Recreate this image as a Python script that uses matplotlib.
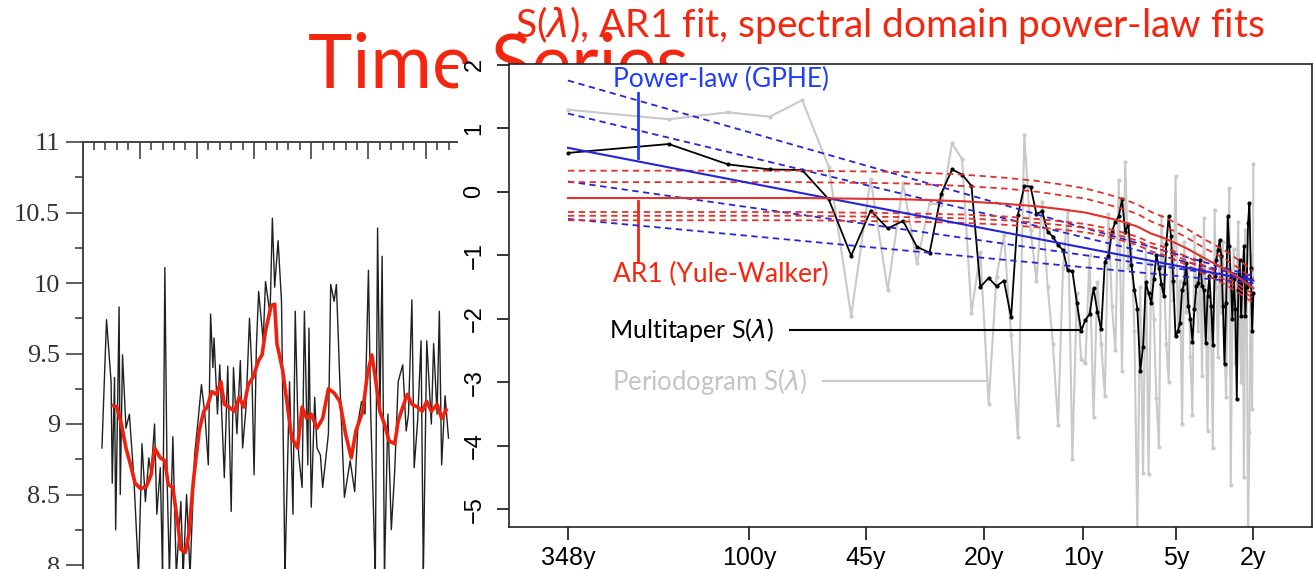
import matplotlib
matplotlib.use("Agg")
import matplotlib.pyplot as plt
import numpy as np
from matplotlib.patches import Rectangle
from matplotlib.ticker import NullLocator

W, H = 1313, 569

# ---- left panel: annual series and its running mean ----
ts_years = [1667, 1671, 1675, 1676, 1678, 1679, 1682, 1683, 1685, 1688, 1691, 1695, 1699,
            1702, 1705, 1708, 1710, 1713, 1715, 1718, 1720, 1722, 1724, 1726, 1729, 1732,
            1736, 1738, 1741, 1744, 1748, 1751, 1754, 1757, 1760, 1762, 1764, 1765, 1768,
            1770, 1774, 1777, 1780, 1782, 1785, 1788, 1790, 1793, 1796, 1798, 1800, 1802,
            1804, 1808, 1810, 1814, 1816, 1818, 1821, 1824, 1827, 1831, 1834, 1836, 1839,
            1842, 1844, 1847, 1848, 1850, 1853, 1855, 1858, 1860, 1865, 1867, 1870, 1872,
            1875, 1879, 1884, 1888, 1891, 1894, 1897, 1900, 1902, 1906, 1908, 1910, 1912,
            1914, 1917, 1920, 1923, 1926, 1930, 1933, 1935, 1938, 1940, 1943, 1946, 1948,
            1951, 1955, 1957, 1960, 1962, 1964, 1967, 1970]
ts_values = [8.83, 9.74, 9.30, 8.58, 9.33, 8.25, 9.83, 8.50, 9.49, 8.97, 9.07, 8.60, 7.93,
             8.86, 8.45, 8.76, 8.64, 9.00, 8.36, 8.69, 7.93, 10.11, 8.60, 7.93, 8.91, 7.93,
             8.45, 7.93, 8.50, 7.93, 8.78, 9.02, 9.28, 9.07, 8.71, 9.78, 9.40, 9.61, 9.07,
             9.42, 8.62, 9.41, 8.38, 9.40, 8.93, 9.45, 8.83, 9.12, 9.75, 9.40, 8.64, 9.54,
             9.94, 9.59, 10.01, 9.78, 10.46, 9.97, 10.30, 9.87, 7.93, 9.30, 8.36, 9.80, 8.78,
             8.55, 9.80, 8.71, 9.68, 8.41, 9.19, 8.83, 8.78, 8.55, 8.93, 9.99, 9.87, 9.99,
             9.30, 8.48, 8.74, 8.52, 9.02, 9.16, 9.07, 10.09, 9.07, 7.93, 10.39, 9.07, 10.19,
             7.93, 9.07, 8.25, 8.67, 9.30, 9.42, 8.95, 9.07, 9.88, 8.69, 9.02, 9.59, 7.93,
             9.59, 9.00, 9.57, 9.07, 9.80, 8.71, 9.20, 8.90]
smooth_years = [1677, 1680, 1684, 1688, 1692, 1696, 1701, 1706, 1710, 1713, 1718, 1722, 1725,
                1729, 1733, 1736, 1740, 1743, 1747, 1752, 1756, 1759, 1763, 1767, 1771, 1774,
                1778, 1783, 1787, 1791, 1795, 1799, 1804, 1807, 1810, 1815, 1818, 1820, 1825,
                1829, 1833, 1838, 1842, 1846, 1850, 1855, 1860, 1865, 1870, 1875, 1880, 1885,
                1889, 1895, 1899, 1903, 1906, 1910, 1914, 1918, 1923, 1926, 1930, 1934, 1938,
                1943, 1947, 1951, 1955, 1960, 1964, 1968]
smooth_values = [9.13, 9.12, 9.00, 8.83, 8.71, 8.58, 8.54, 8.56, 8.64, 8.83, 8.76, 8.74, 8.57,
                 8.55, 8.31, 8.11, 8.09, 8.22, 8.60, 8.95, 9.09, 9.12, 9.23, 9.21, 9.30, 9.14,
                 9.12, 9.09, 9.19, 9.12, 9.28, 9.33, 9.45, 9.49, 9.66, 9.84, 9.85, 9.57, 9.38,
                 9.14, 8.90, 8.83, 9.12, 9.04, 9.07, 8.97, 9.04, 9.25, 9.22, 9.16, 8.93, 8.76,
                 8.95, 9.09, 9.35, 9.49, 9.33, 9.09, 9.00, 8.88, 8.86, 9.02, 9.12, 9.21, 9.14,
                 9.12, 9.09, 9.16, 9.09, 9.14, 9.04, 9.10]

# ---- right panel: log10 spectra at Fourier index k = 1, 2, ... ----
multitaper = [0.61, 0.75, 0.43, 0.35, 0.34, -0.12, -1.01, -0.30, -0.58, -0.46,
              -0.87, -0.96, -0.03, 0.35, 0.27, 0.09, -1.50, -1.36, -1.49, -1.40,
              -1.98, -0.37, 0.09, 0.08, -0.35, -0.31, -0.63, -0.71, -0.84, -0.92,
              -1.24, -1.25, -1.75, -2.19, -2.02, -1.93, -1.52, -1.89, -2.17, -1.10,
              -1.02, -0.63, -0.47, -0.39, -0.12, -0.63, -0.51, -1.15, -1.55, -1.84,
              -2.82, -2.44, -1.43, -1.60, -1.75, -1.37, -1.00, -1.20, -1.45, -1.65,
              -0.82, -0.39, -0.70, -1.40, -2.28, -2.20, -2.07, -1.55, -1.44, -1.13,
              -1.80, -2.00, -2.36, -1.85, -1.49, -1.44, -1.07, -1.49, -1.55, -2.39,
              -1.65, -1.33, -1.80, -2.41, -1.33, -1.07, -0.92, -0.76, -1.02, -1.80,
              -2.72, -1.75, -0.39, -0.86, -1.33, -2.00, -1.38, -1.85, -3.27, -1.55,
              -1.07, -1.96, -1.33, -0.86, -1.96, -1.50, -0.49, -0.18, -1.20, -2.20, -1.60]
periodogram = [1.29, 1.14, 1.25, 1.18, 1.44, 0.39, -1.96, 0.20, -1.55, 0.13,
               -1.13, -0.18, -0.21, 0.76, 0.51, -1.91, -0.95, -3.34, -1.34, -0.68,
               -2.26, -3.86, 0.89, -0.60, -1.40, -0.16, -1.50, -2.40, -3.67, -1.20,
               -0.30, -4.21, -1.60, -2.64, -2.70, -1.00, -3.55, -1.42, -2.40, -3.21,
               -0.35, -1.80, -2.50, 0.18, -2.82, 0.46, -1.20, -0.80, -2.20, -5.40,
               -1.50, -4.43, -0.84, -4.45, -1.10, -2.00, -3.25, -4.02, -0.39, -1.30,
               -2.40, -2.99, -0.90, -1.70, 0.24, -2.10, -1.40, -3.66, -0.80, -1.90,
               -1.20, -2.60, -3.51, -0.70, -1.60, -2.20, -1.00, -2.90, -0.42, -1.80,
               -3.77, -1.20, -2.30, -4.04, -0.29, -1.50, -2.60, -1.00, -1.90, -0.80,
               -2.40, -3.24, -1.40, 0.05, -4.62, -1.80, -0.90, -2.70, -1.30, -0.47,
               -2.00, -3.00, -1.10, -4.50, -0.60, -1.70, -5.40, -3.78, -1.00, -3.42, 0.44]

# power-law (GPHE) fit and its bands: log10 S at first and last index
gphe_fit = [0.69, -1.40]
gphe_bands = [[1.75, -1.33], [1.23, -1.36], [0.16, -1.38], [-0.43, -1.44]]

# AR1 (Yule-Walker) fit and bands, read at these indices
ar1_k = [1, 5, 10, 15, 20, 25, 30, 35, 40, 45, 50, 55, 60, 65, 70, 80, 90, 100, 111]
ar1_fit = [-0.10, -0.10, -0.12, -0.15, -0.19, -0.23, -0.28, -0.33, -0.40, -0.47,
           -0.55, -0.66, -0.73, -0.81, -0.89, -1.06, -1.20, -1.35, -1.52]
ar1_bands = [
    [0.33, 0.33, 0.31, 0.27, 0.22, 0.17, 0.11, 0.05, -0.03, -0.11,
     -0.20, -0.32, -0.40, -0.49, -0.58, -0.76, -0.91, -1.07, -1.25],
    [0.15, 0.15, 0.13, 0.09, 0.05, 0.00, -0.06, -0.11, -0.19, -0.27,
     -0.35, -0.47, -0.55, -0.63, -0.72, -0.90, -1.04, -1.20, -1.38],
    [-0.32, -0.32, -0.34, -0.36, -0.39, -0.43, -0.47, -0.51, -0.57, -0.64,
     -0.71, -0.81, -0.87, -0.95, -1.02, -1.18, -1.31, -1.46, -1.62],
    [-0.38, -0.38, -0.40, -0.42, -0.45, -0.49, -0.53, -0.57, -0.63, -0.70,
     -0.77, -0.87, -0.93, -1.01, -1.08, -1.24, -1.37, -1.52, -1.68],
    [-0.45, -0.45, -0.47, -0.49, -0.52, -0.56, -0.60, -0.64, -0.70, -0.77,
     -0.84, -0.94, -1.00, -1.08, -1.15, -1.31, -1.44, -1.59, -1.75],
]

period_labels = ["348y", "100y", "45y", "20y", "10y", "5y", "2y"]
period_ticks = [1, 3.48, 7.73, 17.4, 34.4, 65.4, 111]

RED = "#f5260f"
BLUE = "#1f3cff"
LINE_BLUE = "#2424d8"
LINE_RED = "#e3302a"
GREY = "#c9c9c9"

fig = plt.figure(figsize=(W / 100, H / 100), dpi=100)
fig.patch.set_facecolor("white")

# slide title (partly hidden behind the spectrum image)
fig.text(308 / W, 1 - 88 / H, "Time Series", fontsize=54, color=RED,
         family="Lato", ha="left", va="baseline", zorder=1)

# ---- left: time series ----
ax1 = fig.add_axes([82.5 / W, 1 - 635.5 / H, (540 - 82.5) / W, (635.5 - 142) / H])
ax1.set_zorder(0)
ax1.plot(ts_years, ts_values, color="#202020", lw=1.0)
ax1.plot(smooth_years, smooth_values, color="#f0200e", lw=2.6)
ax1.set_xlim(1650, 2036)
ax1.set_ylim(7.5, 11)
ax1.spines["right"].set_visible(False)
ax1.spines["bottom"].set_visible(False)
for s in ["left", "top"]:
    ax1.spines[s].set_color("#444444")
    ax1.spines[s].set_linewidth(1.4)
ax1.xaxis.set_ticks_position("top")
ax1.set_xticks(np.arange(1650, 2051, 50))
ax1.set_xticks(np.arange(1650, 2051, 10), minor=True)
ax1.tick_params(axis="x", which="both", direction="in", labeltop=False,
                labelbottom=False, color="#444444", width=1.2)
ax1.tick_params(axis="x", which="major", length=12)
ax1.tick_params(axis="x", which="minor", length=6)
ax1.set_yticks([8, 8.5, 9, 9.5, 10, 10.5, 11])
ax1.set_yticklabels(["8", "8.5", "9", "9.5", "10", "10.5", "11"])
ax1.set_yticks(np.arange(7.75, 11, 0.5), minor=True)
ax1.tick_params(axis="y", which="both", direction="out", color="#444444", width=1.2,
                labelsize=19, labelcolor="#333333")
ax1.tick_params(axis="y", which="major", length=12, pad=4)
ax1.tick_params(axis="y", which="minor", length=6)
for lab in ax1.get_yticklabels():
    lab.set_family("Liberation Serif")

# white background of the pasted spectrum figure
fig.patches.append(Rectangle((458 / W, 0), 1 - 458 / W, 1 - 64 / H,
                             transform=fig.transFigure, facecolor="white",
                             edgecolor="none", zorder=2))

# ---- right: spectra ----
ax2 = fig.add_axes([509 / W, 1 - 527 / H, (1312 - 509) / W, (527 - 64) / H])
ax2.set_zorder(3)
k = np.arange(1, len(multitaper) + 1)
k_end = [1, len(multitaper)]
ax2.plot(k, periodogram, "-o", color=GREY, lw=1.5, ms=3, mec="none", zorder=1)
ax2.plot(k, multitaper, "-o", color="black", lw=1.3, ms=3, mec="none", zorder=2)
for band in gphe_bands:
    ax2.plot(k_end, band, color=LINE_BLUE, lw=1.3, ls=(0, (3.5, 2.5)), zorder=3)
for band in ar1_bands:
    ax2.plot(ar1_k, band, color=LINE_RED, lw=1.3, ls=(0, (3.5, 2.5)), zorder=3)
ax2.plot(k_end, gphe_fit, color=LINE_BLUE, lw=1.5, zorder=4)
ax2.plot(ar1_k, ar1_fit, color=LINE_RED, lw=1.5, zorder=4)

ax2.set_xscale("log")
ax2.set_xlim(0.667, 166)
ax2.set_ylim(-5.28, 2.01)
ax2.set_xticks(period_ticks)
ax2.set_xticklabels(period_labels)
ax2.xaxis.set_minor_locator(NullLocator())
ax2.set_yticks(range(-5, 3))
ax2.tick_params(axis="both", direction="out", length=9, width=1.1, labelsize=17)
ax2.tick_params(axis="x", pad=5, labelsize=18)
ax2.tick_params(axis="y", pad=8)
for lab in ax2.get_yticklabels():
    lab.set_rotation(90)
    lab.set_va("center")
    lab.set_family("Liberation Sans")
for lab in ax2.get_xticklabels():
    lab.set_family("Liberation Sans")
for s in ax2.spines.values():
    s.set_linewidth(1.2)
    s.set_color("#222222")

# labels and leader lines
ax2.text(1.36, 1.76, "Power-law (GPHE)", color=BLUE, fontsize=19, family="Lato",
         va="center", ha="left")
ax2.plot([1.615, 1.615], [1.55, 0.53], color=BLUE, lw=2)
ax2.text(1.36, -1.30, "AR1 (Yule-Walker)", color=RED, fontsize=19, family="Lato",
         va="center", ha="left")
ax2.plot([1.615, 1.615], [-0.15, -1.11], color=RED, lw=2)
ax2.text(1.33, -2.18, r"Multitaper S($\lambda$)", color="black", fontsize=18,
         family="Lato", va="center", ha="left")
ax2.plot([4.6, 34], [-2.18, -2.18], color="black", lw=1.5)
ax2.text(1.35, -2.99, r"Periodogram S($\lambda$)", color="#c4c4c4", fontsize=18.5,
         family="Lato", va="center", ha="left")
ax2.plot([5.77, 17.7], [-2.98, -2.98], color=GREY, lw=1.5)

fig.text(515 / W, 1 - 37 / H, r"S($\lambda$), AR1 fit, spectral domain power-law fits",
         fontsize=28, color=RED, family="Lato", ha="left", va="baseline", zorder=5)

fig.savefig("out.png", dpi=100, facecolor="white")
